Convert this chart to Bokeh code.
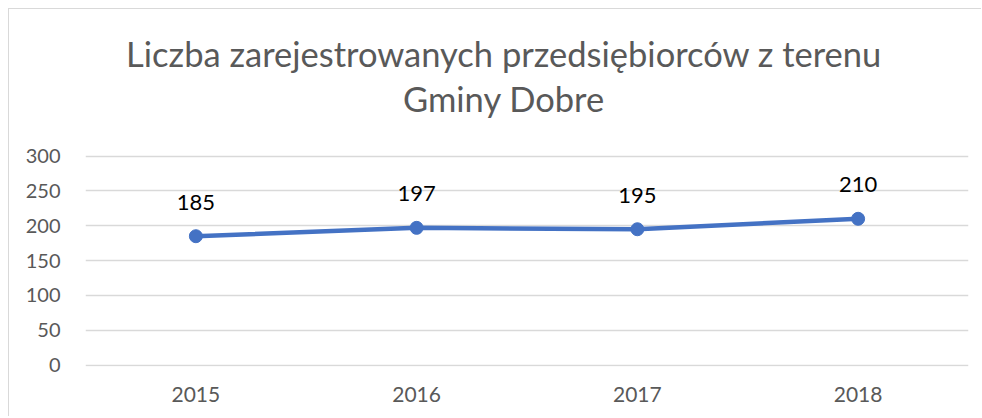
from bokeh.plotting import figure
from bokeh.models import ColumnDataSource, LabelSet, Label, FactorRange, Range1d, FixedTicker
from bokeh.core.properties import value
from bokeh.embed import file_html
from bokeh.resources import INLINE

years = ["2015", "2016", "2017", "2018"]
counts = [185, 197, 195, 210]
y_ticks = [0, 50, 100, 150, 200, 250, 300]
title_lines = ["Liczba zarejestrowanych przedsiębiorców z terenu", "Gminy Dobre"]

FONT = "Lato"
GRAY = "#595959"
GRID = "#d9d9d9"
BLUE = "#4472c4"

src = ColumnDataSource(data=dict(x=years, y=counts, lbl=[str(c) for c in counts]))

# frame spans from the top of the canvas so the title can sit inside it;
# grid lines and tick labels only at the fixed ticks 0..300
p = figure(width=973, height=408, output_backend="svg", toolbar_location=None,
           x_range=FactorRange(*years, range_padding=0), y_range=Range1d(-2, 510.4),
           min_border_left=76, min_border_right=14, min_border_top=0, min_border_bottom=51)
p.outline_line_color = None
p.background_fill_color = "white"
p.border_fill_color = "white"
p.styles = {"margin-left": "8px", "margin-top": "8px",
            "border-left": f"1px solid {GRID}", "border-top": f"1px solid {GRID}"}

p.line("x", "y", source=src, line_color=BLUE, line_width=4.5)
p.scatter("x", "y", source=src, size=13, fill_color=BLUE, line_color=BLUE)

labels = LabelSet(x="x", y="y", text="lbl", source=src, y_offset=34,
                  text_align="center", text_baseline="middle",
                  text_font=value(FONT), text_font_size="22px", text_color="#000000")
p.add_layout(labels)

for t, ty in zip(title_lines, [313.5, 268]):
    p.add_layout(Label(x=418.5, y=ty, x_units="screen", y_units="screen", text=t,
                       text_align="center", text_baseline="middle",
                       text_font=FONT, text_font_size="34.5px", text_color=GRAY))

p.yaxis.ticker = FixedTicker(ticks=y_ticks)
p.yaxis.axis_line_color = None
p.yaxis.major_tick_line_color = None
p.yaxis.minor_tick_line_color = None
p.yaxis.major_label_standoff = 19
p.yaxis.major_label_text_font = FONT
p.yaxis.major_label_text_font_size = "20px"
p.yaxis.major_label_text_color = GRAY

p.xaxis.axis_line_color = None
p.xaxis.major_tick_line_color = None
p.xaxis.minor_tick_line_color = None
p.xaxis.major_label_standoff = 14
p.xaxis.major_label_text_font = FONT
p.xaxis.major_label_text_font_size = "21px"
p.xaxis.major_label_text_color = GRAY

p.xgrid.grid_line_color = None
p.ygrid.grid_line_color = GRID
p.ygrid.grid_line_width = 1.3

open("out.html", "w").write(file_html(p, INLINE))
